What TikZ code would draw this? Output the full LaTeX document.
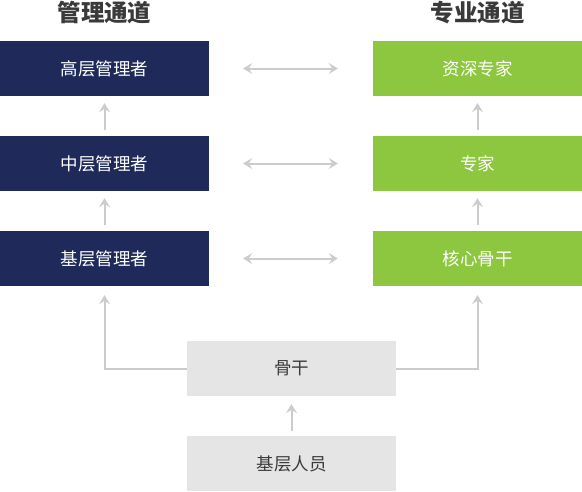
\documentclass[tikz,border=0pt]{standalone}
\usepackage{fontspec}
\setmainfont{Noto Sans CJK SC}
\usetikzlibrary{arrows.meta}

\definecolor{navy}{HTML}{1F2A5A}
\definecolor{leaf}{HTML}{8DC63F}
\definecolor{boxgray}{HTML}{E5E5E5}
\definecolor{linegray}{HTML}{CCCCCC}
\definecolor{txtgray}{HTML}{3A3A3A}

\tikzset{
  box/.style={minimum width=209pt,minimum height=55pt,inner sep=0pt,
    font=\fontsize{17.5}{18}\selectfont},
  mgr/.style={box,fill=navy,text=white},
  pro/.style={box,fill=leaf,text=white},
  base/.style={box,fill=boxgray,text=txtgray},
  link/.style={draw=linegray,line width=2pt,-{Stealth[length=9pt,width=11pt,inset=3.5pt]}},
  both/.style={link,{Stealth[length=9pt,width=11pt,inset=3.5pt]}-{Stealth[length=9pt,width=11pt,inset=3.5pt]}},
  heading/.style={font=\bfseries\fontsize{23.5}{24}\selectfont,text=txtgray}
}

\begin{document}
\begin{tikzpicture}[x=1pt,y=-1pt]
  \useasboundingbox (0,0) rectangle (582,491);

  % titles
  \node[heading] (mgrtitle) at (104.5,13) {管理通道};
  \node[heading] (protitle) at (477.5,13) {专业通道};

  % two ladders
  \node[mgr] (topmgr) at (104.5,68.5) {高层管理者};
  \node[mgr] (midmgr) at (104.5,163.5) {中层管理者};
  \node[mgr] (lowmgr) at (104.5,258.5) {基层管理者};

  \node[pro] (toppro) at (477.5,68.5) {资深专家};
  \node[pro] (midpro) at (477.5,163.5) {专家};
  \node[pro] (lowpro) at (477.5,258.5) {核心骨干};

  % common base
  \node[base] (core) at (291.5,368.5) {骨干};
  \node[base] (staff) at (291.5,463.5) {基层人员};

  % steps up
  \draw[link,shorten <=6pt,shorten >=7pt] (midmgr.north) -- (topmgr.south);
  \draw[link,shorten <=6pt,shorten >=7pt] (lowmgr.north) -- (midmgr.south);
  \draw[link,shorten <=6pt,shorten >=7pt] (midpro.north) -- (toppro.south);
  \draw[link,shorten <=6pt,shorten >=7pt] (lowpro.north) -- (midpro.south);

  % switching between ladders
  \foreach \ll/\rr in {topmgr/toppro,midmgr/midpro,lowmgr/lowpro}
  {
       \draw[both,shorten <=34pt,shorten >=35pt] (\ll.east) -- (\rr.west);
  }

  % base into both ladders
  \draw[link,shorten >=9pt] (core.west) -| (lowmgr.south);
  \draw[link,shorten >=9pt] (core.east) -| (lowpro.south);
  \draw[link,shorten <=5pt,shorten >=8pt] (staff.north) -- (core.south);

\end{tikzpicture}
\end{document}
